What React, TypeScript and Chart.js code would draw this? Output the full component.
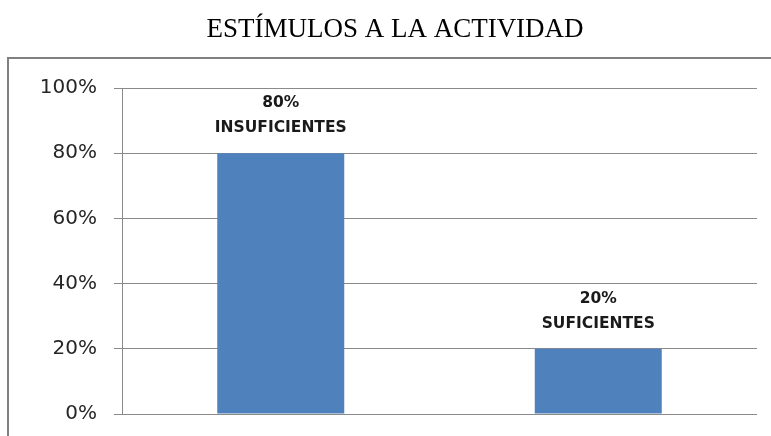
import React, { useEffect, useRef } from "react";
import { Chart, registerables } from "chart.js";

Chart.register(...registerables);

const TITLE = "ESTÍMULOS A LA ACTIVIDAD";
const categories = ["INSUFICIENTES", "SUFICIENTES"];
const values = [80, 20];
const valueLabels = ["80%", "20%"];
const tickValues = [0, 20, 40, 60, 80, 100];

const decorPlugin = {
  id: "decor",
  beforeDraw(chart: any) {
    const ctx = chart.ctx;
    ctx.save();
    ctx.fillStyle = "#ffffff";
    ctx.fillRect(0, 0, chart.width, chart.height);
    // outer frame
    ctx.strokeStyle = "#808080";
    ctx.lineWidth = 2;
    ctx.beginPath();
    ctx.moveTo(8, chart.height + 2);
    ctx.lineTo(8, 58);
    ctx.lineTo(chart.width + 2, 58);
    ctx.stroke();
    // title
    ctx.fillStyle = "#000000";
    ctx.font = "27px 'Liberation Serif', 'Times New Roman', serif";
    ctx.textAlign = "center";
    ctx.textBaseline = "middle";
    ctx.fillText(TITLE, 395, 30);
    ctx.restore();
  },
  afterDatasetsDraw(chart: any) {
    const ctx = chart.ctx;
    const meta = chart.getDatasetMeta(0);
    ctx.save();
    ctx.fillStyle = "#1a1a1a";
    ctx.font = "bold 15.5px 'DejaVu Sans', sans-serif";
    ctx.textAlign = "center";
    ctx.textBaseline = "middle";
    meta.data.forEach((bar: any, i: number) => {
      ctx.fillText(valueLabels[i], bar.x, bar.y - 50);
      ctx.fillText(categories[i], bar.x, bar.y - 25);
    });
    ctx.restore();
  },
};

export default function App() {
  const ref = useRef<HTMLCanvasElement>(null);
  useEffect(() => {
    const chart = new Chart(ref.current!, {
      type: "bar",
      data: {
        labels: categories,
        datasets: [
          {
            data: values,
            backgroundColor: "#4F81BD",
            borderWidth: 0,
            barPercentage: 0.4,
            categoryPercentage: 1,
          },
        ],
      },
      options: {
        responsive: false,
        animation: false,
        layout: { padding: { top: 88, left: 0, right: 14, bottom: 22 } },
        plugins: {
          legend: { display: false },
          tooltip: { enabled: false },
          title: { display: false },
        },
        scales: {
          x: {
            display: false,
          },
          y: {
            min: 0,
            max: 100,
            afterFit: (scale: any) => {
              scale.width = 122;
              scale.paddingTop = 0;
              scale.paddingBottom = 0;
            },
            afterBuildTicks: (scale: any) => {
              scale.ticks = tickValues.map((v) => ({ value: v }));
            },
            grid: { color: "#8a8a8a", lineWidth: 1, tickLength: 8 },
            border: { color: "#8a8a8a", width: 1 },
            ticks: {
              padding: 17,
              color: "#262626",
              font: { family: "'DejaVu Sans', sans-serif", size: 20 },
              callback: (v: any) => v + "%",
            },
          },
        },
      },
      plugins: [decorPlugin],
    });
    return () => chart.destroy();
  }, []);
  return (
    <div style={{ position: "absolute", left: 0, top: 0, width: 771, height: 436 }}>
      <canvas ref={ref} width={771} height={436} style={{ width: 771, height: 436 }} />
    </div>
  );
}
